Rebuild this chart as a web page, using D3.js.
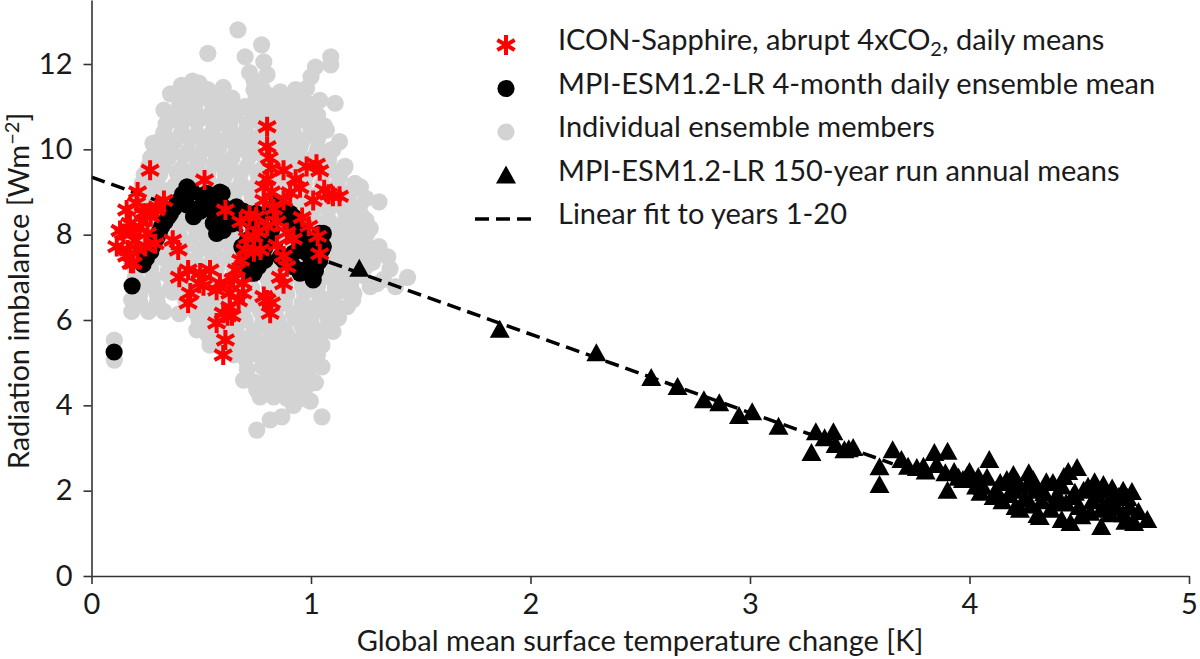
<!DOCTYPE html>
<html>
<head>
<meta charset="utf-8">
<script src="https://cdn.jsdelivr.net/npm/d3@7/dist/d3.min.js"></script>
<style>
  body { margin: 0; background: #fff; }
  text { font-family: Lato, "DejaVu Sans", sans-serif; font-weight: 400; fill: #1a1a1a; }
</style>
</head>
<body>
<script>
// values
var xTicks = [0, 1, 2, 3, 4, 5]
var yTicks = [0, 2, 4, 6, 8, 10, 12]

// grey: individual ensemble members (daily), [dT, N]
var members = [
  [0.104,5.53],[0.104,5.06],[0.183,6.2],[0.183,6.47],[0.22,6.86],[0.33,6.2],[0.40,6.15],[0.435,6.33],
  [0.48,5.77],[0.54,5.41],[0.585,5.37],[0.647,5.18],[0.70,5.1],[0.693,4.59],[0.74,4.55],[0.753,4.36],
  [0.768,4.2],[0.753,3.42],[0.814,3.66],[0.867,3.73],[0.83,4.67],[0.86,4.83],[0.905,4.9],[0.89,4.17],
  [0.92,4.0],[0.958,4.3],[0.997,4.1],[1.02,4.53],[1.05,4.9],[1.05,3.73],[0.98,4.45],[0.92,5.27],
  [1.05,5.41],[1.10,5.73],[1.125,6.05],[1.087,5.84],[1.19,6.47],[0.80,5.2],[0.74,5.3],
  [0.28,10.14],[0.29,9.7],[0.33,10.92],[0.36,11.3],[0.41,11.5],[0.46,11.6],[0.49,11.55],[0.53,12.25],
  [0.525,11.3],[0.615,11.15],[0.57,10.9],[0.65,10.8],[0.667,12.8],[0.70,12.17],[0.775,12.45],[0.785,12.05],
  [0.74,11.62],[0.74,11.4],[0.83,11.08],[0.905,11.23],[0.98,11.43],[1.02,11.93],[1.09,12.17],[1.09,11.98],
  [1.11,11.08],[1.01,10.92],[0.95,10.84],[1.01,10.6],[1.13,10.18],[1.09,9.98],[1.155,9.6],[1.225,9.12],
  [1.31,8.77],[1.25,8.34],[1.195,8.65],[1.255,8.03],[1.31,7.72],[1.35,7.48],[1.44,7.0],[1.385,6.78],
  [1.27,6.78],[1.195,6.62],[1.165,6.31],[1.10,6.07],[1.15,7.17],[1.195,7.56],[1.12,7.87],
  [0.72,11.8],[0.80,11.75],[1.00,11.7],[0.45,11.4],[0.53,11.4],[0.60,11.45],[0.78,11.4],[0.86,11.35],[0.93,11.4],
  [0.42,11.2],[0.49,11.2],[0.57,11.15],[0.64,11.2],[0.75,11.2],[0.82,11.25],[0.89,11.2],[0.96,11.2],[1.04,11.15],
  [0.40,11.0],[0.47,11.0],[0.55,11.05],[0.62,10.95],[0.70,11.0],[0.78,11.05],[0.86,10.95],[0.93,11.0],[1.00,11.05],
  [0.37,10.8],[0.44,10.8],[0.51,10.75],[0.59,10.8],[0.66,10.85],[0.74,10.8],[0.81,10.8],[0.88,10.75],[0.96,10.8],[1.03,10.8],
  [0.34,10.6],[0.41,10.6],[0.48,10.65],[0.56,10.55],[0.63,10.6],[0.71,10.6],[0.77,10.65],[0.85,10.55],[0.92,10.6],[0.99,10.6],[1.06,10.55],
  [0.33,10.4],[0.41,10.4],[0.48,10.35],[0.55,10.4],[0.63,10.45],[0.70,10.4],[0.78,10.4],[0.85,10.35],[0.92,10.4],[1.00,10.4],[1.07,10.45],
  [0.31,10.2],[0.38,10.2],[0.45,10.25],[0.52,10.15],[0.60,10.2],[0.67,10.2],[0.74,10.25],[0.82,10.2],[0.89,10.15],[0.96,10.2],[1.03,10.25],
  [0.29,10.0],[0.36,10.0],[0.44,9.95],[0.51,10.0],[0.58,10.05],[0.66,10.0],[0.73,10.0],[0.81,9.95],[0.88,10.0],[0.95,10.05],[1.03,10.0],[1.10,10.0],
  [0.27,9.8],[0.35,9.8],[0.42,9.85],[0.49,9.75],[0.57,9.8],[0.64,9.8],[0.72,9.85],[0.79,9.8],[0.87,9.75],[0.94,9.8],[1.01,9.8],[1.08,9.75],
  [0.26,9.6],[0.33,9.6],[0.41,9.55],[0.48,9.6],[0.56,9.65],[0.63,9.6],[0.71,9.6],[0.78,9.55],[0.86,9.6],[0.93,9.65],[1.00,9.6],[1.08,9.6],[1.15,9.55],
  [0.24,9.4],[0.31,9.4],[0.39,9.45],[0.46,9.35],[0.53,9.4],[0.61,9.4],[0.68,9.45],[0.76,9.4],[0.84,9.35],[0.91,9.4],[0.98,9.4],[1.06,9.45],[1.13,9.35],
  [0.23,9.2],[0.30,9.2],[0.38,9.15],[0.45,9.2],[0.53,9.25],[0.60,9.2],[0.68,9.2],[0.75,9.15],[0.83,9.2],[0.90,9.25],[0.97,9.2],[1.05,9.2],[1.12,9.15],[1.20,9.2],
  [0.22,9.0],[0.29,9.0],[0.36,9.05],[0.44,8.95],[0.51,9.0],[0.58,9.0],[0.66,9.05],[0.73,8.95],[0.81,9.0],[0.88,9.0],[0.96,9.05],[1.03,8.95],[1.11,9.0],[1.18,9.0],
  [0.21,8.8],[0.28,8.8],[0.35,8.75],[0.43,8.8],[0.50,8.85],[0.58,8.8],[0.65,8.8],[0.73,8.75],[0.80,8.8],[0.88,8.85],[0.95,8.8],[1.02,8.8],[1.10,8.75],[1.17,8.8],[1.25,8.85],
  [0.20,8.6],[0.27,8.6],[0.34,8.65],[0.42,8.55],[0.49,8.6],[0.56,8.6],[0.63,8.65],[0.71,8.55],[0.79,8.6],[0.86,8.6],[0.93,8.65],[1.01,8.55],[1.08,8.6],[1.15,8.6],[1.22,8.65],
  [0.19,8.4],[0.26,8.4],[0.34,8.35],[0.41,8.4],[0.49,8.45],[0.56,8.4],[0.64,8.4],[0.71,8.35],[0.79,8.4],[0.86,8.45],[0.93,8.4],[1.01,8.4],[1.08,8.35],[1.16,8.4],[1.23,8.45],
  [0.18,8.2],[0.25,8.2],[0.32,8.25],[0.40,8.15],[0.47,8.2],[0.54,8.2],[0.62,8.25],[0.69,8.15],[0.77,8.2],[0.84,8.2],[0.91,8.25],[0.99,8.15],[1.06,8.2],[1.13,8.2],[1.20,8.25],[1.27,8.15],
  [0.18,8.0],[0.25,8.0],[0.33,7.95],[0.40,8.0],[0.48,8.05],[0.55,8.0],[0.63,8.0],[0.70,7.95],[0.78,8.0],[0.85,8.05],[0.93,8.0],[1.00,8.0],[1.07,7.95],[1.15,8.0],[1.22,8.05],
  [0.17,7.8],[0.24,7.8],[0.31,7.85],[0.38,7.75],[0.45,7.8],[0.53,7.8],[0.60,7.85],[0.67,7.75],[0.75,7.8],[0.82,7.8],[0.90,7.85],[0.97,7.75],[1.04,7.8],[1.11,7.8],[1.18,7.85],[1.25,7.75],
  [0.19,7.6],[0.26,7.6],[0.34,7.55],[0.41,7.6],[0.49,7.65],[0.56,7.6],[0.64,7.6],[0.71,7.55],[0.79,7.6],[0.86,7.65],[0.94,7.6],[1.01,7.6],[1.09,7.55],[1.16,7.6],[1.24,7.65],[1.31,7.6],
  [0.18,7.4],[0.26,7.4],[0.33,7.45],[0.40,7.35],[0.47,7.4],[0.55,7.4],[0.62,7.45],[0.70,7.35],[0.77,7.4],[0.84,7.4],[0.92,7.45],[0.99,7.35],[1.07,7.4],[1.14,7.4],[1.21,7.45],[1.28,7.35],
  [0.20,7.2],[0.27,7.2],[0.35,7.15],[0.42,7.2],[0.50,7.25],[0.57,7.2],[0.65,7.2],[0.72,7.15],[0.80,7.2],[0.87,7.25],[0.95,7.2],[1.02,7.2],[1.10,7.15],[1.17,7.2],[1.25,7.25],[1.36,7.2],
  [0.20,7.0],[0.28,7.0],[0.35,7.05],[0.43,6.95],[0.50,7.0],[0.57,7.0],[0.65,7.05],[0.72,6.95],[0.80,7.0],[0.87,7.0],[0.94,7.05],[1.02,6.95],[1.09,7.0],[1.16,7.0],[1.23,7.05],[1.33,6.95],
  [0.21,6.8],[0.28,6.8],[0.36,6.75],[0.43,6.8],[0.51,6.85],[0.58,6.8],[0.66,6.8],[0.73,6.75],[0.81,6.8],[0.88,6.85],[0.96,6.8],[1.03,6.8],[1.11,6.75],[1.18,6.8],[1.30,6.85],
  [0.22,6.6],[0.30,6.6],[0.37,6.65],[0.45,6.55],[0.52,6.6],[0.60,6.6],[0.67,6.65],[0.74,6.55],[0.82,6.6],[0.89,6.6],[0.97,6.65],[1.04,6.55],[1.11,6.6],[1.18,6.6],
  [0.22,6.4],[0.30,6.4],[0.43,6.45],[0.51,6.4],[0.58,6.4],[0.66,6.35],[0.73,6.4],[0.81,6.45],[0.88,6.4],[0.96,6.4],[1.03,6.35],[1.10,6.4],
  [0.26,6.2],[0.47,6.2],[0.54,6.25],[0.62,6.15],[0.69,6.2],[0.77,6.2],[0.84,6.25],[0.92,6.15],[0.99,6.2],[1.06,6.2],
  [0.49,6.0],[0.56,6.0],[0.63,6.05],[0.70,6.0],[0.78,5.95],[0.85,6.0],[0.93,6.05],[1.00,6.0],[1.08,6.0],
  [0.52,5.8],[0.59,5.8],[0.66,5.85],[0.74,5.75],[0.81,5.8],[0.88,5.8],[0.96,5.85],[1.03,5.75],
  [0.53,5.65],[0.60,5.65],[0.67,5.6],[0.74,5.65],[0.82,5.7],[0.89,5.65],[0.97,5.65],[1.04,5.6],
  [0.56,5.5],[0.63,5.5],[0.70,5.55],[0.78,5.45],[0.85,5.5],[0.93,5.5],[1.00,5.55],
  [0.60,5.35],[0.68,5.35],[0.75,5.3],[0.82,5.35],[0.89,5.4],[0.97,5.35],[1.02,5.3],
  [0.75,5.2],[0.83,5.2],[0.90,5.15],[0.97,5.2],[1.03,5.2],
  [0.79,5.05],[0.86,5.05],[0.94,5.0],[1.01,5.05],
  [0.71,4.85],[0.78,4.9],[0.85,4.9],[0.93,4.85],[1.00,4.9],
  [0.82,4.75],[0.89,4.75],[0.97,4.7],
  [0.80,4.6],[0.88,4.6],[0.95,4.65],
  [0.80,4.4],[0.86,4.4],[0.92,4.45],[0.83,4.2],[0.90,4.25],[0.95,4.15]
]

// black: MPI-ESM1.2-LR 4-month daily ensemble mean
var ensembleMean = [
  [0.103,5.25],[0.185,6.8],[0.235,7.3],[0.25,7.45],[0.27,7.6],[0.285,7.78],[0.30,7.95],[0.31,8.08],
  [0.32,8.2],[0.335,8.3],[0.35,8.42],[0.36,8.5],[0.375,8.62],[0.39,8.74],[0.40,8.8],[0.415,8.95],
  [0.435,9.12],[0.45,9.05],[0.46,9.0],[0.435,8.7],[0.465,8.42],[0.48,8.6],[0.495,8.55],[0.51,8.85],
  [0.525,8.97],[0.53,8.8],[0.545,8.9],[0.56,8.5],[0.555,8.27],[0.57,8.03],[0.575,8.85],[0.585,9.0],
  [0.595,8.97],[0.60,8.65],[0.60,8.1],[0.61,8.5],[0.63,8.34],[0.64,8.25],[0.655,8.4],[0.66,8.65],
  [0.68,8.42],[0.69,8.55],[0.70,8.42],[0.72,8.34],[0.73,8.45],[0.75,8.5],[0.76,8.45],[0.77,8.2],
  [0.77,8.34],[0.745,8.0],[0.73,7.85],[0.685,7.72],[0.70,7.6],[0.70,7.4],[0.71,7.87],[0.72,7.3],
  [0.72,7.1],[0.74,7.1],[0.74,7.33],[0.76,7.25],[0.74,7.57],[0.78,7.55],[0.79,7.4],[0.79,7.7],
  [0.80,7.87],[0.82,8.1],[0.83,8.6],[0.845,8.74],[0.845,8.42],[0.86,8.55],[0.88,8.55],[0.86,7.48],
  [0.875,7.4],[0.90,8.3],[0.905,8.5],[0.92,8.42],[0.935,8.18],[0.92,8.03],[0.94,7.9],[0.95,8.03],
  [0.92,7.57],[0.96,7.75],[0.92,7.25],[0.95,7.1],[0.965,7.17],[0.98,7.57],[0.99,7.8],[1.0,7.45],
  [0.99,7.1],[1.01,6.94],[1.02,7.15],[1.03,7.33],[1.04,7.4],[1.02,7.9],[1.04,8.03],[1.05,7.65],
  [1.056,7.72],[1.056,8.03]
]

// red: ICON-Sapphire abrupt 4xCO2 daily means
var icon = [
  [0.115,7.72],[0.145,8.03],[0.175,8.26],[0.16,8.58],[0.205,8.74],[0.235,8.5],[0.22,8.18],[0.20,7.87],
  [0.165,7.64],[0.18,7.33],[0.255,8.03],[0.27,8.42],[0.295,8.58],[0.33,8.8],[0.245,7.72],[0.29,7.79],
  [0.21,9.0],[0.13,8.1],[0.16,7.5],[0.19,7.33],[0.19,8.05],[0.21,7.65],[0.25,8.5],[0.30,8.65],
  [0.267,9.51],[0.515,9.28],[0.61,8.58],[0.72,8.46],[0.68,8.3],[0.71,7.92],[0.76,8.06],[0.77,7.64],
  [0.70,7.64],[0.68,7.4],[0.66,7.17],[0.645,6.95],[0.69,6.86],[0.69,6.63],[0.67,6.45],[0.63,6.3],
  [0.60,6.16],[0.57,5.93],[0.61,5.53],[0.60,5.18],[0.585,6.86],[0.63,6.63],[0.54,7.17],[0.495,7.1],
  [0.49,6.86],[0.45,6.63],[0.44,6.4],[0.51,6.8],[0.40,7.0],[0.44,7.17],[0.37,7.87],[0.395,7.64],
  [0.785,6.55],[0.814,6.16],[0.82,6.4],[0.64,6.1],[0.62,6.1],[0.57,6.7],
  [0.80,10.53],[0.80,10.06],[0.81,9.8],[0.82,9.55],[0.785,9.12],[0.785,8.8],[0.875,9.51],[0.93,9.3],
  [0.98,9.6],[1.025,9.65],[1.04,9.5],[1.01,8.8],[1.06,9.05],[1.10,8.9],[1.13,8.9],[1.08,8.95],
  [0.95,9.1],[0.905,8.98],[0.875,8.8],[0.83,8.6],[0.845,8.3],[0.89,8.05],[0.92,7.9],[0.96,8.4],
  [0.99,8.2],[1.03,7.96],[1.04,7.55],[0.845,7.75],[0.875,7.5],[0.89,7.25],[0.86,7.0],[0.875,6.85],
  [0.80,6.47],[0.74,7.6],[0.74,7.96],[0.75,8.42],[0.80,9.3],[0.82,9.0],[0.80,8.2]
]

// triangles: MPI-ESM1.2-LR 150-year run annual means
var annual = [
  [1.22,7.2],[1.86,5.77],[2.30,5.22],[2.55,4.64],[2.67,4.43],[2.79,4.12],[2.86,4.05],[2.95,3.75],
  [3.01,3.84],[3.13,3.5],[3.28,2.88],[3.30,3.37],[3.34,3.23],[3.38,3.37],[3.39,3.07],[3.43,2.95],
  [3.47,3.0],[3.45,2.97],[3.59,2.55],[3.59,2.13],[3.65,2.95],[3.69,2.72],[3.72,2.56],[3.76,2.53],
  [3.79,2.56],[3.84,2.88],[3.90,2.91],[3.89,2.41],[3.90,2.0],[3.93,2.44],[3.97,2.25],[4.0,2.44],
  [4.04,2.32],[4.06,2.09],[4.09,2.72],[4.11,1.85],[4.14,2.18],[4.17,2.25],[4.2,2.37],[4.21,1.62],
  [4.22,2.18],[4.23,1.55],[4.26,2.09],[4.27,2.41],[4.29,2.25],[4.31,1.43],[4.32,1.38],[4.34,1.94],
  [4.35,2.2],[4.38,2.18],[4.4,1.71],[4.42,1.31],[4.43,2.32],[4.45,2.44],[4.46,1.24],[4.47,1.85],
  [4.49,2.53],[4.5,1.62],[4.52,2.0],[4.54,2.09],[4.55,1.48],[4.57,2.2],[4.59,2.0],[4.6,1.15],
  [4.61,2.13],[4.63,1.71],[4.66,1.85],[4.68,1.85],[4.7,2.0],[4.71,1.27],[4.72,1.83],[4.73,1.6],
  [4.74,1.97],[4.75,1.24],[4.81,1.31],
  [4.05,1.95],[4.12,2.0],[4.18,1.9],[4.25,1.8],[4.28,1.65],[4.33,1.75],[4.37,1.55],[4.4,1.9],
  [4.44,1.7],[4.48,1.95],[4.51,1.4],[4.56,1.75],[4.6,1.55],[4.64,1.45],[4.67,1.6],[4.7,1.45],
  [4.77,1.5],[4.03,2.1],[3.95,2.3],[4.15,1.75],[4.2,2.0],[4.3,2.0],[4.42,2.1],[4.58,1.9],
  [4.65,2.05],[3.8,2.45],[3.85,2.6],[3.99,2.35],[4.08,2.3]
]

// linear fit to years 1-20
var fit = [[0, 9.35], [3.65, 2.63]]

var legendItems = [
  {kind: 'star', text: ['ICON-Sapphire, abrupt 4xCO', '2', ', daily means']},
  {kind: 'mean', text: ['MPI-ESM1.2-LR 4-month daily ensemble mean']},
  {kind: 'member', text: ['Individual ensemble members']},
  {kind: 'tri', text: ['MPI-ESM1.2-LR 150-year run annual means']},
  {kind: 'fit', text: ['Linear fit to years 1-20']}
]

var W = 1200, H = 659
var FS = 29
var svg = d3.select('body').append('svg').attr('width', W).attr('height', H)

var x = d3.scaleLinear().domain([0, 5]).range([91.5, 1189])
var y = d3.scaleLinear().domain([0, 13.5]).range([576, 0])

var R = 8.6
function starPath(r) {
  var p = ''
  ;[90, 30, 150].forEach(function(a) {
    var t = a * Math.PI / 180
    p += 'M' + (r * Math.cos(t)) + ',' + (-r * Math.sin(t)) + 'L' + (-r * Math.cos(t)) + ',' + (r * Math.sin(t))
  })
  return p
}
var triPath = 'M0,-10L10,8L-10,8Z'

// grey members
svg.append('g').selectAll('circle').data(members).join('circle')
  .attr('cx', function(d) { return x(d[0]) })
  .attr('cy', function(d) { return y(d[1]) })
  .attr('r', R)
  .attr('fill', '#d3d3d3')

// fit line
svg.append('path')
  .attr('d', d3.line().x(function(d) { return x(d[0]) }).y(function(d) { return y(d[1]) })(fit))
  .attr('fill', 'none').attr('stroke', '#000').attr('stroke-width', 3.5)
  .attr('stroke-dasharray', '14,7')

// ensemble mean
svg.append('g').selectAll('circle').data(ensembleMean).join('circle')
  .attr('cx', function(d) { return x(d[0]) })
  .attr('cy', function(d) { return y(d[1]) })
  .attr('r', R)
  .attr('fill', '#000')

// annual means
svg.append('g').selectAll('path').data(annual).join('path')
  .attr('transform', function(d) { return 'translate(' + x(d[0]) + ',' + y(d[1]) + ')' })
  .attr('d', triPath)
  .attr('fill', '#000')

// ICON stars
svg.append('g').selectAll('path').data(icon).join('path')
  .attr('transform', function(d) { return 'translate(' + x(d[0]) + ',' + y(d[1]) + ')' })
  .attr('d', starPath(10))
  .attr('stroke', '#ff0000').attr('stroke-width', 4).attr('fill', 'none')

// axes
var xAxis = svg.append('g').attr('transform', 'translate(0,576)')
  .call(d3.axisBottom(x).tickValues(xTicks).tickFormat(d3.format('d')).tickSize(8).tickSizeOuter(0).tickPadding(9))
var yAxis = svg.append('g').attr('transform', 'translate(91.5,0)')
  .call(d3.axisLeft(y).tickValues(yTicks).tickFormat(d3.format('d')).tickSize(8).tickSizeOuter(0).tickPadding(11))
;[xAxis, yAxis].forEach(function(a) {
  a.selectAll('.domain').attr('stroke', '#333').attr('stroke-width', 1.6)
  a.selectAll('.tick line').attr('stroke', '#333').attr('stroke-width', 1.6)
  a.selectAll('.tick text').attr('font-size', FS).attr('font-family', 'Lato').attr('fill', '#1a1a1a')
})

// axis titles
svg.append('text')
  .attr('x', 640).attr('y', 651).attr('text-anchor', 'middle').attr('font-size', FS)
  .text('Global mean surface temperature change [K]')

var yl = svg.append('text')
  .attr('transform', 'translate(29,291) rotate(-90)')
  .attr('text-anchor', 'middle').attr('font-size', FS)
yl.append('tspan').text('Radiation imbalance [Wm')
yl.append('tspan').attr('font-size', 20).attr('dy', -10).text('\u22122')
yl.append('tspan').attr('dy', 10).text(']')

// legend
var rowY = [45, 88.5, 132, 175.5, 219]
var leg = svg.append('g')
legendItems.forEach(function(it, i) {
  var cy = rowY[i]
  if (it.kind === 'star') {
    leg.append('path').attr('transform', 'translate(506,' + cy + ')').attr('d', starPath(10))
      .attr('stroke', '#ff0000').attr('stroke-width', 4).attr('fill', 'none')
  } else if (it.kind === 'mean') {
    leg.append('circle').attr('cx', 506).attr('cy', cy).attr('r', R).attr('fill', '#000')
  } else if (it.kind === 'member') {
    leg.append('circle').attr('cx', 506).attr('cy', cy).attr('r', R).attr('fill', '#d3d3d3')
  } else if (it.kind === 'tri') {
    leg.append('path').attr('transform', 'translate(506,' + cy + ')').attr('d', triPath).attr('fill', '#000')
  } else {
    leg.append('line').attr('x1', 475).attr('x2', 531).attr('y1', cy).attr('y2', cy)
      .attr('stroke', '#000').attr('stroke-width', 3.5).attr('stroke-dasharray', '14,7')
  }
  var t = leg.append('text').attr('x', 558).attr('y', cy + 5).attr('font-size', FS)
  t.append('tspan').text(it.text[0])
  if (it.text.length > 1) {
    t.append('tspan').attr('font-size', 20).attr('dy', 6).text(it.text[1])
    t.append('tspan').attr('dy', -6).text(it.text[2])
  }
})
</script>
</body>
</html>
